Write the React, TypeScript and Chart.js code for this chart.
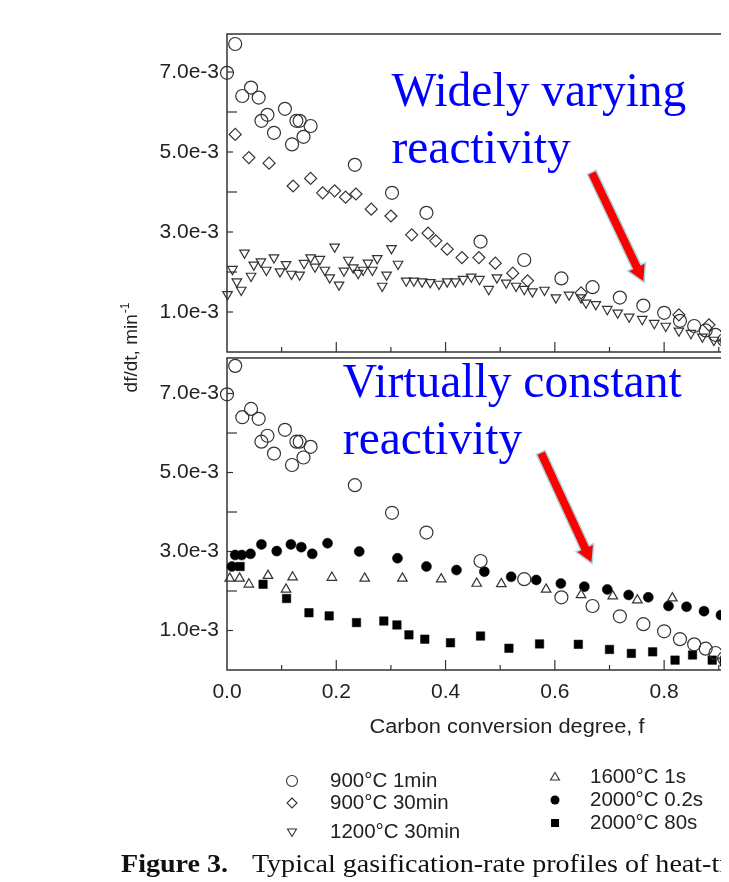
import React, { useEffect, useRef } from 'react';
import { Chart, registerables } from 'chart.js';
Chart.register(...registerables);

// x: carbon conversion degree f ; y: df/dt in units of 1e-3 min^-1
const c900_1min_f = [0.000, 0.015, 0.028, 0.044, 0.058, 0.063, 0.074, 0.086, 0.106, 0.119, 0.127, 0.133, 0.140, 0.153, 0.234, 0.302, 0.365, 0.464, 0.544, 0.612, 0.669, 0.719, 0.762, 0.800, 0.829, 0.855, 0.876, 0.894, 0.910];
const c900_1min_v = [6.98, 7.70, 6.40, 6.61, 6.36, 5.78, 5.93, 5.48, 6.08, 5.19, 5.78, 5.78, 5.38, 5.65, 4.68, 3.98, 3.48, 2.76, 2.30, 1.84, 1.62, 1.36, 1.16, 0.98, 0.78, 0.65, 0.54, 0.43, 0.30];

const c900_30min_f = [0.015, 0.040, 0.077, 0.121, 0.153, 0.175, 0.197, 0.217, 0.236, 0.264, 0.300, 0.338, 0.368, 0.382, 0.403, 0.430, 0.461, 0.491, 0.523, 0.550, 0.648, 0.827, 0.882];
const c900_30min_v = [5.44, 4.86, 4.72, 4.15, 4.34, 3.98, 4.03, 3.87, 3.95, 3.57, 3.40, 2.93, 2.97, 2.78, 2.57, 2.36, 2.36, 2.22, 1.97, 1.78, 1.48, 0.93, 0.68];

const c1200_30min_f = [0.001, 0.010, 0.018, 0.026, 0.032, 0.044, 0.049, 0.062, 0.072, 0.086, 0.097, 0.108, 0.118, 0.133, 0.141, 0.153, 0.161, 0.170, 0.179, 0.188, 0.197, 0.205, 0.214, 0.222, 0.231, 0.240, 0.249, 0.258, 0.266, 0.275, 0.284, 0.292, 0.301, 0.313, 0.328, 0.342, 0.357, 0.372, 0.388, 0.403, 0.418, 0.432, 0.447, 0.462, 0.479, 0.494, 0.511, 0.529, 0.544, 0.559, 0.581, 0.602, 0.626, 0.648, 0.657, 0.675, 0.696, 0.715, 0.736, 0.760, 0.782, 0.803, 0.827, 0.849, 0.870, 0.891, 0.910];
const c1200_30min_v = [1.44, 2.07, 1.76, 1.55, 2.48, 1.90, 2.18, 2.26, 2.05, 2.36, 2.01, 2.19, 1.95, 1.93, 2.22, 2.36, 2.13, 2.32, 2.05, 1.86, 2.63, 1.68, 2.03, 2.30, 2.11, 1.97, 2.05, 2.23, 2.05, 2.34, 1.65, 1.93, 2.59, 2.20, 1.78, 1.78, 1.76, 1.74, 1.70, 1.76, 1.76, 1.82, 1.88, 1.82, 1.57, 1.86, 1.73, 1.65, 1.57, 1.51, 1.55, 1.36, 1.43, 1.36, 1.23, 1.19, 1.07, 0.98, 0.88, 0.82, 0.72, 0.65, 0.53, 0.47, 0.38, 0.30, 0.22];

const c1600_1s_f = [0.005, 0.023, 0.040, 0.075, 0.108, 0.120, 0.192, 0.252, 0.321, 0.392, 0.457, 0.502, 0.584, 0.648, 0.706, 0.751, 0.815];
const c1600_1s_v = [2.32, 2.32, 2.17, 2.39, 2.04, 2.35, 2.34, 2.32, 2.32, 2.30, 2.19, 2.18, 2.04, 1.90, 1.87, 1.77, 1.82];

const c2000_02s_f = [0.009, 0.015, 0.027, 0.043, 0.063, 0.091, 0.117, 0.136, 0.156, 0.184, 0.242, 0.312, 0.365, 0.420, 0.471, 0.520, 0.566, 0.611, 0.654, 0.696, 0.735, 0.771, 0.808, 0.841, 0.873, 0.904];
const c2000_02s_v = [2.62, 2.91, 2.91, 2.94, 3.18, 3.01, 3.18, 3.11, 2.94, 3.21, 3.00, 2.83, 2.62, 2.53, 2.49, 2.36, 2.28, 2.19, 2.11, 2.04, 1.90, 1.84, 1.62, 1.60, 1.49, 1.39];

const c2000_80s_f = [0.024, 0.066, 0.109, 0.150, 0.187, 0.237, 0.287, 0.311, 0.333, 0.362, 0.409, 0.464, 0.516, 0.572, 0.643, 0.700, 0.740, 0.779, 0.820, 0.852, 0.888, 0.910];
const c2000_80s_v = [2.62, 2.17, 1.81, 1.45, 1.37, 1.20, 1.24, 1.14, 0.89, 0.78, 0.69, 0.86, 0.55, 0.66, 0.65, 0.52, 0.42, 0.46, 0.25, 0.38, 0.25, 0.21];

const seriesLabels = ['900°C 1min', '900°C 30min', '1200°C 30min', '1600°C 1s', '2000°C 0.2s', '2000°C 80s'];
const xTickLabels = ['0.0', '0.2', '0.4', '0.6', '0.8', '1.0'];
const yTickLabels = ['1.0e-3', '3.0e-3', '5.0e-3', '7.0e-3'];
const xTitle = 'Carbon conversion degree, f';
const yTitle = 'df/dt, min';
const topNote = ['Widely varying', 'reactivity'];
const botNote = ['Virtually constant', 'reactivity'];
const captionHead = 'Figure 3.';
const caption = 'Typical gasification-rate profiles of heat-treated chars';

const E3 = 1e-3;
const TOP_MIN = -0.075, TOP_MAX = 7.95;
const BOT_MIN = 0, BOT_MAX = 7.975, BOT_FRAME = 7.9;
const INK = '#333';
const SANS = '"Liberation Sans", Arial, sans-serif';
const SERIF = '"Liberation Serif", "Times New Roman", serif';

const pts = (f: number[], v: number[]) => f.map((x, i) => ({ x, y: v[i] * E3 }));

function yTickCb(value: any) {
  const k = Math.round(Number(value) / E3 * 10) / 10;
  const lbl = k.toFixed(1) + 'e-3';
  return yTickLabels.includes(lbl) ? lbl : '';
}
function xTickCb(value: any) {
  const lbl = Number(value).toFixed(1);
  return xTickLabels.includes(lbl) ? lbl : '';
}

function drawArrow(ctx: CanvasRenderingContext2D, x1: number, y1: number, x2: number, y2: number) {
  const dx = x2 - x1, dy = y2 - y1, len = Math.hypot(dx, dy);
  const ux = dx / len, uy = dy / len, nx = -uy, ny = ux;
  const sw = 4, hw = 8.5, hl = 15;
  const bx = x2 - ux * hl, by = y2 - uy * hl;
  ctx.beginPath();
  ctx.moveTo(x1 + nx * sw, y1 + ny * sw);
  ctx.lineTo(bx + nx * sw, by + ny * sw);
  ctx.lineTo(bx + nx * hw, by + ny * hw);
  ctx.lineTo(x2, y2);
  ctx.lineTo(bx - nx * hw, by - ny * hw);
  ctx.lineTo(bx - nx * sw, by - ny * sw);
  ctx.lineTo(x1 - nx * sw, y1 - ny * sw);
  ctx.closePath();
  ctx.lineJoin = 'miter';
  ctx.strokeStyle = '#a9d6de';
  ctx.lineWidth = 3;
  ctx.stroke();
  ctx.fillStyle = '#ff0000';
  ctx.fill();
}

function legendMarker(ctx: CanvasRenderingContext2D, kind: number, x: number, y: number) {
  ctx.save();
  ctx.strokeStyle = INK; ctx.fillStyle = '#000'; ctx.lineWidth = 1.1;
  ctx.beginPath();
  if (kind === 0) { ctx.arc(x, y, 5.5, 0, Math.PI * 2); ctx.stroke(); }
  else if (kind === 1) { ctx.moveTo(x, y - 5); ctx.lineTo(x + 5, y); ctx.lineTo(x, y + 5); ctx.lineTo(x - 5, y); ctx.closePath(); ctx.stroke(); }
  else if (kind === 2) { ctx.moveTo(x - 4.5, y - 3); ctx.lineTo(x + 4.5, y - 3); ctx.lineTo(x, y + 4.5); ctx.closePath(); ctx.stroke(); }
  else if (kind === 3) { ctx.moveTo(x - 4.5, y + 3); ctx.lineTo(x + 4.5, y + 3); ctx.lineTo(x, y - 4.5); ctx.closePath(); ctx.stroke(); }
  else if (kind === 4) { ctx.arc(x, y, 4.5, 0, Math.PI * 2); ctx.fill(); }
  else { ctx.rect(x - 4, y - 4, 8, 8); ctx.fill(); }
  ctx.restore();
}

const framePlugin = {
  id: 'frame',
  beforeDatasetsDraw(chart: any) {
    const { ctx } = chart;
    const xs = chart.scales.x, yT = chart.scales.yTop, yB = chart.scales.yBot;
    const L = xs.getPixelForValue(0), R = xs.getPixelForValue(1);
    const panels = [
      { s: yT, top: yT.getPixelForValue(TOP_MAX * E3), bot: yT.getPixelForValue(0) },
      { s: yB, top: yB.getPixelForValue(BOT_FRAME * E3), bot: yB.getPixelForValue(0) },
    ];
    ctx.save();
    ctx.strokeStyle = INK;
    for (const p of panels) {
      ctx.lineWidth = 1.5;
      ctx.strokeRect(L, p.top, R - L, p.bot - p.top);
      ctx.lineWidth = 1.2;
      for (let k = 1; k <= 7; k++) {
        const y = p.s.getPixelForValue(k * E3);
        const len = k % 2 === 1 ? 6 : 10;
        ctx.beginPath(); ctx.moveTo(L, y); ctx.lineTo(L + len, y); ctx.stroke();
      }
      for (let k = 1; k <= 9; k++) {
        const x = xs.getPixelForValue(k / 10);
        const len = k % 2 === 0 ? 10 : 5;
        ctx.beginPath(); ctx.moveTo(x, p.bot); ctx.lineTo(x, p.bot - len); ctx.stroke();
      }
    }
    ctx.restore();
  },
  afterDraw(chart: any) {
    const { ctx } = chart;
    const xs = chart.scales.x, yT = chart.scales.yTop, yB = chart.scales.yBot;
    ctx.save();
    // annotations
    ctx.fillStyle = '#0000ff';
    ctx.font = `47.5px ${SERIF}`;
    ctx.textAlign = 'left';
    ctx.textBaseline = 'alphabetic';
    ctx.fillText(topNote[0], xs.getPixelForValue(0.301), yT.getPixelForValue(6.15 * E3));
    ctx.fillText(topNote[1], xs.getPixelForValue(0.301), yT.getPixelForValue(4.725 * E3));
    ctx.fillText(botNote[0], xs.getPixelForValue(0.212), yB.getPixelForValue(6.91 * E3));
    ctx.fillText(botNote[1], xs.getPixelForValue(0.212), yB.getPixelForValue(5.47 * E3));
    drawArrow(ctx, xs.getPixelForValue(0.668), yT.getPixelForValue(4.475 * E3), xs.getPixelForValue(0.762), yT.getPixelForValue(1.775 * E3));
    drawArrow(ctx, xs.getPixelForValue(0.575), yB.getPixelForValue(5.49 * E3), xs.getPixelForValue(0.667), yB.getPixelForValue(2.73 * E3));

    // x title (slightly widened like the source scan)
    ctx.fillStyle = '#222';
    ctx.font = `20px ${SANS}`;
    ctx.textAlign = 'center';
    ctx.textBaseline = 'middle';
    ctx.save();
    ctx.translate(499, 719);
    ctx.scale(1.09, 1);
    ctx.fillText(xTitle, 0, 0);
    ctx.restore();

    // y title (rotated) with superscript
    const mid = (yT.getPixelForValue(0) + yB.getPixelForValue(BOT_FRAME * E3)) / 2 - 7;
    ctx.save();
    ctx.translate(129, mid);
    ctx.rotate(-Math.PI / 2);
    ctx.font = `19px ${SANS}`;
    const w1 = ctx.measureText(yTitle).width;
    ctx.font = `12px ${SANS}`;
    const w2 = ctx.measureText('-1').width;
    const start = -(w1 + w2) / 2;
    ctx.textAlign = 'left';
    ctx.textBaseline = 'alphabetic';
    ctx.font = `19px ${SANS}`;
    ctx.fillText(yTitle, start, 0);
    ctx.font = `12px ${SANS}`;
    ctx.fillText('-1', start + w1 + 1, -8);
    ctx.restore();

    // legend
    const rowsL = [773, 795, 824];
    const rowsR = [769, 792, 815];
    ctx.font = `20.5px ${SANS}`;
    ctx.fillStyle = '#222';
    ctx.textAlign = 'left';
    ctx.textBaseline = 'middle';
    for (let i = 0; i < 3; i++) {
      legendMarker(ctx, i, 284, rowsL[i]);
      ctx.fillText(seriesLabels[i], 322, rowsL[i]);
      legendMarker(ctx, i + 3, 547, rowsR[i]);
      ctx.fillText(seriesLabels[i + 3], 582, rowsR[i]);
    }
    ctx.restore();
  },
};

export default function App() {
  const ref = useRef<HTMLCanvasElement | null>(null);
  useEffect(() => {
    if (!ref.current) return;
    const open = { backgroundColor: 'rgba(0,0,0,0)', borderColor: INK, borderWidth: 1.2, clip: false as any };
    const datasets: any[] = [
      { label: seriesLabels[0], data: pts(c900_1min_f, c900_1min_v), yAxisID: 'yTop', pointStyle: 'circle', pointRadius: 6.5, ...open },
      { label: seriesLabels[1], data: pts(c900_30min_f, c900_30min_v), yAxisID: 'yTop', pointStyle: 'rectRot', pointRadius: 6, ...open },
      { label: seriesLabels[2], data: pts(c1200_30min_f, c1200_30min_v), yAxisID: 'yTop', pointStyle: 'triangle', rotation: 180, pointRadius: 5.5, ...open },
      { label: seriesLabels[0], data: pts(c900_1min_f, c900_1min_v), yAxisID: 'yBot', pointStyle: 'circle', pointRadius: 6.5, ...open },
      { label: seriesLabels[3], data: pts(c1600_1s_f, c1600_1s_v), yAxisID: 'yBot', pointStyle: 'triangle', pointRadius: 5.5, ...open },
      { label: seriesLabels[4], data: pts(c2000_02s_f, c2000_02s_v), yAxisID: 'yBot', pointStyle: 'circle', pointRadius: 5, backgroundColor: '#000', borderColor: '#000', borderWidth: 0.5, clip: false },
      { label: seriesLabels[5], data: pts(c2000_80s_f, c2000_80s_v), yAxisID: 'yBot', pointStyle: 'rect', pointRadius: 6, backgroundColor: '#000', borderColor: '#000', borderWidth: 0.5, clip: false },
    ];
    const yCommon = {
      type: 'linear' as const,
      position: 'left' as const,
      stack: 'panels',
      grid: { display: false, drawTicks: false },
      border: { display: false },
      ticks: { stepSize: E3, autoSkip: false, includeBounds: false, padding: 8, color: '#222', font: { family: SANS, size: 21 }, callback: yTickCb },
      afterFit: (s: any) => { s.width = 219; },
    };
    const chart = new Chart(ref.current, {
      type: 'scatter',
      data: { datasets },
      plugins: [framePlugin],
      options: {
        animation: false,
        responsive: false,
        maintainAspectRatio: false,
        events: [],
        layout: { padding: { top: 26, right: 22.5, bottom: 172, left: 0 } },
        plugins: { legend: { display: false }, tooltip: { enabled: false } },
        scales: {
          x: {
            type: 'linear', position: 'bottom', min: 0, max: 1,
            grid: { display: false, drawTicks: false }, border: { display: false },
            ticks: { stepSize: 0.1, autoSkip: false, maxRotation: 0, padding: 10, color: '#222', font: { family: SANS, size: 21 }, callback: xTickCb },
            afterFit: (s: any) => { s.height = 40; },
          },
          yTop: { ...yCommon, weight: 2, stackWeight: 321, min: TOP_MIN * E3, max: TOP_MAX * E3 },
          yBot: { ...yCommon, weight: 1, stackWeight: 315, min: BOT_MIN * E3, max: BOT_MAX * E3 },
        } as any,
      },
    });
    return () => chart.destroy();
  }, []);
  return (
    <div style={{ position: 'relative', width: 721, height: 874, overflow: 'hidden', background: '#fff' }}>
      <canvas ref={ref} width={790} height={874} style={{ position: 'absolute', left: 0, top: 0, width: 790, height: 874 }} />
      <div style={{ position: 'absolute', left: 113, top: 841, whiteSpace: 'nowrap', font: `26px/30px ${SERIF}`, color: '#111', transform: 'scaleX(1.08)', transformOrigin: '0 0' }}>
        <span style={{ fontWeight: 'bold' }}>{captionHead}</span>
        <span style={{ marginLeft: 22 }}>{caption}</span>
      </div>
    </div>
  );
}
